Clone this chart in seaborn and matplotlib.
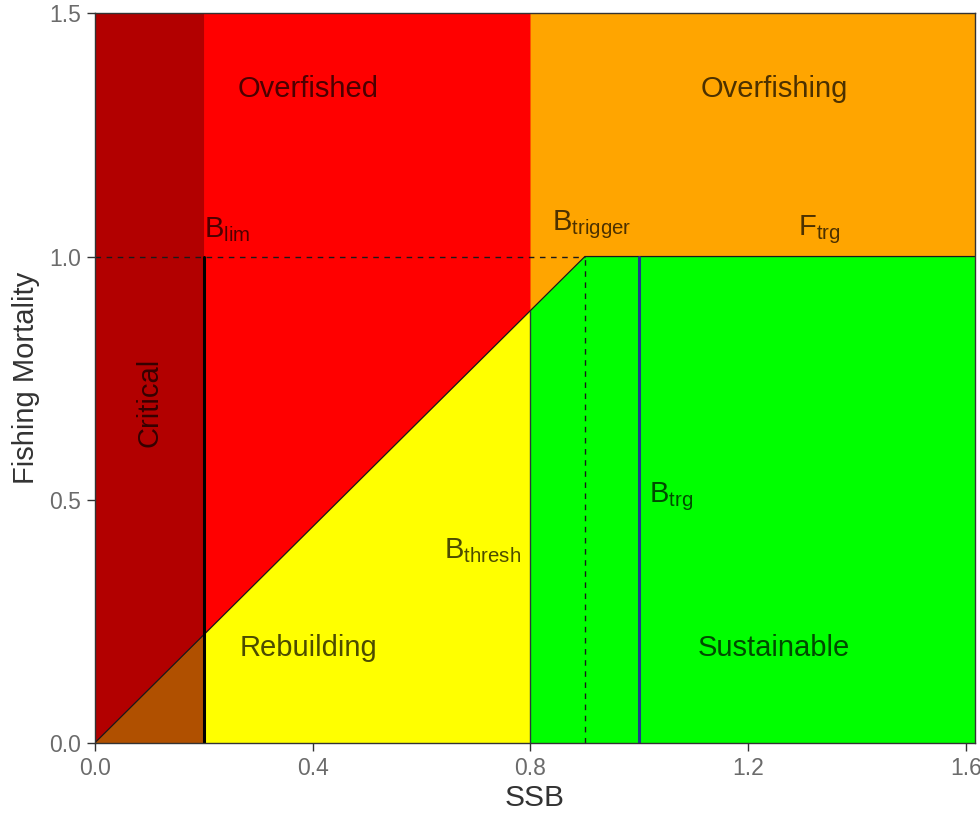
import numpy as np
import pandas as pd
import matplotlib
matplotlib.use('Agg')
import matplotlib.pyplot as plt
import seaborn as sns

# ── Reference points ──────────────────────────────────────────────────────────
B_LIM = 0.2
B_THRESH = 0.8
B_TRIGGER = 0.9
B_TRG = 1.0
F_TRG = 1.0
X_MAX = 1.617
Y_MAX = 1.5

# harvest control rule: F rises linearly to F_TRG at B_TRIGGER
hcr_ssb = [0.0, B_TRIGGER, X_MAX]
hcr_f = [0.0, F_TRG, F_TRG]

zone_names = ["Overfished", "Overfishing", "Rebuilding", "Sustainable", "Critical"]
zone_x = [0.392, 1.248, 0.392, 1.248, 0.1]
zone_y = [1.345, 1.345, 0.195, 0.195, 0.7]

ref_labels = [r"$\mathregular{B_{lim}}$", r"$\mathregular{B_{trigger}}$",
              r"$\mathregular{F_{trg}}$", r"$\mathregular{B_{trg}}$",
              r"$\mathregular{B_{thresh}}$"]
ref_x = [0.2, 0.84, 1.292, 1.018, 0.641]
ref_y = [1.055, 1.065, 1.055, 0.505, 0.395]

sns.set_theme(style="white")
plt.rcParams['font.family'] = ['Liberation Sans', 'DejaVu Sans']
plt.rcParams['mathtext.fontset'] = 'custom'
plt.rcParams['mathtext.rm'] = 'Liberation Sans'

fig = plt.figure(figsize=(9.8, 8.17), dpi=100)
ax = fig.add_axes([0.097, 0.091, 0.898, 0.8925])

hcr = lambda x: np.interp(x, hcr_ssb, hcr_f)


def zone(x, lo, hi, col):
    ax.fill_between(x, lo, hi, facecolor=col, edgecolor=col, lw=0.6)


# ── Zones ─────────────────────────────────────────────────────────────────────
x_crit = np.linspace(0, B_LIM, 50)
zone(x_crit, hcr(x_crit), Y_MAX, '#B20000')
zone(x_crit, 0, hcr(x_crit), '#B05000')

x_mid = np.linspace(B_LIM, B_THRESH, 50)
zone(x_mid, hcr(x_mid), Y_MAX, '#FF0000')
zone(x_mid, 0, hcr(x_mid), '#FFFF00')

x_hi = np.linspace(B_THRESH, X_MAX, 200)
zone(x_hi, hcr(x_hi), Y_MAX, '#FFA500')
zone(x_hi, 0, hcr(x_hi), '#00FF00')

# ── Lines ─────────────────────────────────────────────────────────────────────
hcr_df = pd.DataFrame({'SSB': hcr_ssb, 'F': hcr_f})
sns.lineplot(data=hcr_df, x='SSB', y='F', color='#1a1a1a', lw=0.9, ax=ax)
ax.plot([0, B_TRIGGER], [F_TRG, F_TRG], color='#1a1a1a', lw=1.0, ls=(0, (4, 4)))
ax.plot([B_TRIGGER, B_TRIGGER], [0, F_TRG], color='#1a1a1a', lw=1.0, ls=(0, (4, 4)))
ax.plot([B_LIM, B_LIM], [0, F_TRG], color='black', lw=2.2)
ax.plot([B_THRESH, B_THRESH], [0, hcr(B_THRESH)], color='#2a3a3a', lw=1.0)
ax.plot([B_TRG, B_TRG], [0, F_TRG], color='#1f3a8c', lw=2.2)

# ── Text ──────────────────────────────────────────────────────────────────────
for name, x, y in zip(zone_names, zone_x, zone_y):
    rot = 90 if name == "Critical" else 0
    ax.text(x, y, name, ha='center', va='center', fontsize=21, rotation=rot,
            color='black', alpha=0.7)
for lab, x, y in zip(ref_labels, ref_x, ref_y):
    ax.text(x, y, lab, ha='left', va='center', fontsize=21, color='black', alpha=0.7)

ax.set_xlim(0, X_MAX)
ax.set_ylim(0, Y_MAX)
ax.set_xticks([0.0, 0.4, 0.8, 1.2, 1.6])
ax.set_xticklabels(['0.0', '0.4', '0.8', '1.2', '1.6'])
ax.set_yticks([0.0, 0.5, 1.0, 1.5])
ax.set_yticklabels(['0.0', '0.5', '1.0', '1.5'])
ax.tick_params(axis='both', direction='out', length=6, width=1, color='#333333',
               labelcolor='#6b6b6b', labelsize=16.5, bottom=True, left=True, pad=4)
ax.set_xlabel('SSB', fontsize=21.5, color='#333333', labelpad=3)
ax.set_ylabel('Fishing Mortality', fontsize=21, color='#333333', labelpad=7)
for s in ax.spines.values():
    s.set_color('#333333')
    s.set_linewidth(1.0)

fig.savefig('out.png', dpi=100)
